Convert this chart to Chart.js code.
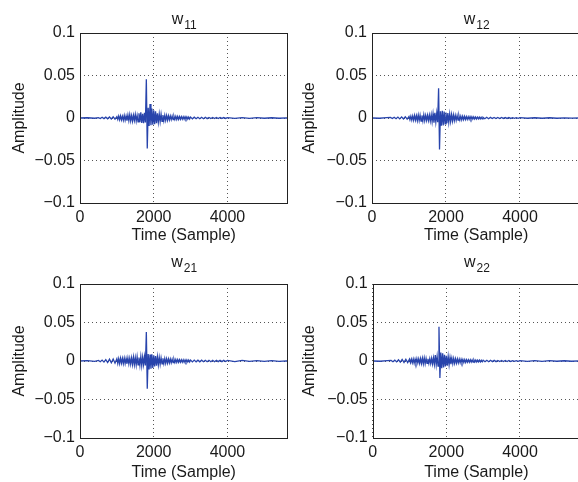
<!DOCTYPE html>
<html>
<head>
<meta charset="utf-8">
<title>w11 w12 w21 w22</title>
<script src="https://cdn.jsdelivr.net/npm/chart.js@4/dist/chart.umd.min.js"></script>
<style>
html, body { margin: 0; padding: 0; background: #fff; overflow: hidden; width: 578px; height: 482px; }
canvas { position: absolute; }
</style>
</head>
<body>
<canvas id="w11" width="290" height="245" style="left:0px;top:0px"></canvas>
<canvas id="w12" width="296" height="245" style="left:290px;top:0px"></canvas>
<canvas id="w21" width="290" height="237" style="left:0px;top:245px"></canvas>
<canvas id="w22" width="296" height="237" style="left:290px;top:245px"></canvas>
<script>
// sample index (x) shared by all four filters
const samples = [
	0, 200, 400,
	500, 550, 600, 650, 700, 750, 800, 850, 900, 950, 1000,
	1025, 1050, 1075, 1100, 1125, 1150, 1175, 1200, 1225, 1250,
	1275, 1300, 1325, 1350, 1375, 1400, 1425, 1450, 1475, 1500,
	1525, 1550, 1575, 1600, 1625, 1650, 1675, 1700, 1725, 1750,
	1775, 1800, 1825, 1850, 1875, 1900, 1925, 1950, 1975, 2000,
	2025, 2050, 2075, 2100, 2125, 2150, 2175, 2200, 2225, 2250,
	2275, 2300, 2325, 2350, 2375, 2400, 2425, 2450, 2475, 2500,
	2525, 2550, 2575, 2600, 2625, 2650, 2675, 2700, 2725, 2750,
	2775, 2800, 2825, 2850, 2875, 2900, 2925, 2950, 2975, 3000,
	3050, 3100, 3150, 3200, 3250, 3300, 3350, 3400, 3450, 3500,
	3550, 3600, 3650, 3700, 3750, 3800, 3850, 3900, 3950, 4000,
	4200, 4400, 4600, 4800, 5000, 5200, 5400, 5600, 5630
];

const w11 = [
	0, 0.0003, -0.0003,
	0.0005, -0.0006, 0.0008, -0.0007, 0.0010, -0.0009, 0.0012, -0.0011, 0.0014, -0.0013, 0.0016,
	-0.0018, 0.0022, -0.0020, 0.0025, -0.0023, 0.0021, -0.0027, 0.0030, -0.0026, 0.0024,
	-0.0031, 0.0035, -0.0030, 0.0040, -0.0034, 0.0028, -0.0038, 0.0032, -0.0029, 0.0042,
	-0.0036, 0.0030, -0.0045, 0.0055, -0.0050, 0.0068, -0.0058, 0.0048, -0.0062, 0.0060,
	-0.0052, 0.0455, -0.0360, 0.0120, -0.0095, 0.0165, -0.0085, 0.0110, -0.0080, 0.0090,
	-0.0072, 0.0078, -0.0060, 0.0055, -0.0050, 0.0048, -0.0042, 0.0045, -0.0038, 0.0035,
	-0.0033, 0.0032, -0.0028, 0.0030, -0.0026, 0.0025, -0.0022, 0.0024, -0.0020, 0.0022,
	-0.0019, 0.0020, -0.0018, 0.0019, -0.0017, 0.0018, -0.0016, 0.0017, -0.0015, 0.0016,
	-0.0014, 0.0015, -0.0013, 0.0014, -0.0012, 0.0013, -0.0012, 0.0012, -0.0011, 0.0011,
	-0.0010, 0.0010, -0.0009, 0.0009, -0.0008, 0.0009, -0.0008, 0.0008, -0.0007, 0.0007,
	-0.0007, 0.0007, -0.0006, 0.0006, -0.0006, 0.0006, -0.0005, 0.0005, -0.0005, 0.0005,
	-0.0004, 0.0004, -0.0004, 0.0004, -0.0003, 0.0003, -0.0003, 0.0002, 0
];

const w12 = [
	0, -0.0003, 0.0004,
	0.0006, -0.0007, 0.0009, -0.0008, 0.0011, -0.0010, 0.0013, -0.0012, 0.0015, -0.0014, 0.0018,
	-0.0020, 0.0022, -0.0025, 0.0024, -0.0027, 0.0030, -0.0026, 0.0028, -0.0032, 0.0035,
	-0.0030, 0.0033, -0.0036, 0.0030, -0.0034, 0.0038, -0.0032, 0.0030, -0.0028, 0.0032,
	-0.0030, 0.0034, -0.0036, 0.0040, -0.0045, 0.0050, -0.0055, 0.0062, -0.0048, 0.0058,
	-0.0050, 0.0350, -0.0370, 0.0080, -0.0090, 0.0085, -0.0088, 0.0075, -0.0070, 0.0065,
	-0.0060, 0.0058, -0.0052, 0.0048, -0.0042, 0.0040, -0.0036, 0.0035, -0.0032, 0.0030,
	-0.0028, 0.0028, -0.0025, 0.0026, -0.0023, 0.0022, -0.0021, 0.0020, -0.0019, 0.0019,
	-0.0017, 0.0017, -0.0016, 0.0016, -0.0015, 0.0015, -0.0014, 0.0014, -0.0013, 0.0013,
	-0.0012, 0.0012, -0.0011, 0.0011, -0.0010, 0.0010, -0.0010, 0.0009, -0.0009, 0.0009,
	-0.0008, 0.0008, -0.0008, 0.0007, -0.0007, 0.0007, -0.0006, 0.0006, -0.0006, 0.0006,
	-0.0005, 0.0005, -0.0005, 0.0005, -0.0005, 0.0004, -0.0004, 0.0004, -0.0004, 0.0004,
	-0.0003, 0.0003, -0.0003, 0.0003, -0.0003, 0.0002, -0.0002, 0.0002, 0
];

const w21 = [
	0, 0.0004, -0.0005,
	0.0008, -0.0010, 0.0012, -0.0014, 0.0018, -0.0020, 0.0024, -0.0022, 0.0026, -0.0028, 0.0030,
	-0.0032, 0.0030, -0.0034, 0.0036, -0.0030, 0.0033, -0.0035, 0.0038, -0.0032, 0.0034,
	-0.0036, 0.0040, -0.0038, 0.0035, -0.0040, 0.0042, -0.0045, 0.0050, -0.0048, 0.0044,
	-0.0052, 0.0055, -0.0050, 0.0046, -0.0055, 0.0058, -0.0060, 0.0052, -0.0048, 0.0056,
	-0.0058, 0.0375, -0.0360, 0.0090, -0.0110, 0.0085, -0.0100, 0.0088, -0.0090, 0.0075,
	-0.0070, 0.0065, -0.0060, 0.0055, -0.0050, 0.0048, -0.0042, 0.0040, -0.0036, 0.0035,
	-0.0033, 0.0032, -0.0030, 0.0030, -0.0028, 0.0027, -0.0025, 0.0025, -0.0023, 0.0022,
	-0.0021, 0.0021, -0.0020, 0.0019, -0.0018, 0.0018, -0.0017, 0.0017, -0.0016, 0.0016,
	-0.0015, 0.0015, -0.0015, 0.0014, -0.0014, 0.0014, -0.0013, 0.0013, -0.0013, 0.0012,
	-0.0012, 0.0012, -0.0011, 0.0011, -0.0011, 0.0010, -0.0010, 0.0010, -0.0010, 0.0009,
	-0.0009, 0.0009, -0.0009, 0.0008, -0.0008, 0.0008, -0.0008, 0.0008, -0.0007, 0.0007,
	-0.0007, 0.0007, -0.0006, 0.0006, -0.0006, 0.0006, -0.0005, 0.0002, 0
];

const w22 = [
	0, -0.0003, 0.0004,
	0.0007, -0.0009, 0.0011, -0.0012, 0.0015, -0.0016, 0.0020, -0.0018, 0.0022, -0.0021, 0.0024,
	-0.0022, 0.0025, -0.0024, 0.0026, -0.0028, 0.0025, -0.0027, 0.0030, -0.0026, 0.0028,
	-0.0030, 0.0032, -0.0034, 0.0036, -0.0038, 0.0040, -0.0036, 0.0034, -0.0030, 0.0028,
	-0.0031, 0.0030, -0.0033, 0.0035, -0.0038, 0.0042, -0.0045, 0.0078, -0.0050, 0.0060,
	-0.0065, 0.0445, -0.0220, 0.0110, -0.0095, 0.0100, -0.0085, 0.0080, -0.0070, 0.0068,
	-0.0062, 0.0058, -0.0050, 0.0045, -0.0040, 0.0038, -0.0035, 0.0034, -0.0031, 0.0030,
	-0.0028, 0.0027, -0.0025, 0.0024, -0.0023, 0.0022, -0.0021, 0.0020, -0.0019, 0.0019,
	-0.0018, 0.0017, -0.0016, 0.0016, -0.0015, 0.0015, -0.0014, 0.0014, -0.0013, 0.0013,
	-0.0013, 0.0012, -0.0012, 0.0012, -0.0011, 0.0011, -0.0011, 0.0010, -0.0010, 0.0010,
	-0.0010, 0.0009, -0.0009, 0.0009, -0.0008, 0.0008, -0.0008, 0.0007, -0.0007, 0.0007,
	-0.0007, 0.0006, -0.0006, 0.0006, -0.0006, 0.0005, -0.0005, 0.0005, -0.0005, 0.0005,
	-0.0004, 0.0004, -0.0004, 0.0004, -0.0003, 0.0003, -0.0003, 0.0002, 0
];

const xTicks = [0, 2000, 4000];
const yTicks = [-0.1, -0.05, 0, 0.05, 0.1];
const xMax = 5630;

const FONT = 'Liberation Sans, Arial, Helvetica, sans-serif';
const TEXT = '#1a1a1a';
const LINE = 'rgb(40, 68, 172)';

// frame box and "w" + subscript title (MATLAB look)
const panelDecor = {
	id: 'panelDecor',
	afterDraw(chart, args, opts) {
		let ctx = chart.ctx;
		let a = chart.chartArea;
		ctx.save();
		ctx.strokeStyle = '#222';
		ctx.lineWidth = 1;
		let l = Math.round(a.left) + 0.5;
		let t = Math.round(a.top) + 0.5;
		let r = Math.floor(a.right) + 0.5;
		let b = Math.floor(a.bottom) + 0.5;
		ctx.strokeRect(l, t, r - l, b - t);

		ctx.fillStyle = TEXT;
		ctx.textBaseline = 'alphabetic';
		ctx.textAlign = 'left';
		ctx.font = '16px ' + FONT;
		let mainW = ctx.measureText(opts.main).width;
		ctx.font = '12px ' + FONT;
		let subW = ctx.measureText(opts.sub).width;
		let x0 = (a.left + a.right) / 2 - (mainW + subW) / 2;
		let base = a.top - opts.gap;
		ctx.font = '16px ' + FONT;
		ctx.fillText(opts.main, x0, base);
		ctx.font = '12px ' + FONT;
		ctx.fillText(opts.sub, x0 + mainW + 1, base + 5);
		ctx.restore();
	}
};

function fmtY(v) {
	let s = String(Math.round(v * 100) / 100);
	return s.replace('-', '\u2212');
}

function makePanel(id, sub, values, box) {
	let points = samples.map((s, i) => ({ x: s, y: values[i] }));
	let target = document.getElementById(id);
	return new Chart(target, {
		type: 'line',
		data: {
			datasets: [{
				label: id,
				data: points,
				borderColor: LINE,
				borderWidth: 1.3,
				pointRadius: 0,
				tension: 0,
				fill: false
			}]
		},
		plugins: [panelDecor],
		options: {
			responsive: false,
			animation: false,
			devicePixelRatio: 1,
			layout: { padding: { top: box.padTop, right: box.padRight, left: 0, bottom: 0 } },
			plugins: {
				legend: { display: false },
				tooltip: { enabled: false },
				panelDecor: { main: 'w', sub: sub, gap: box.titleGap }
			},
			scales: {
				x: {
					type: 'linear',
					min: 0,
					max: xMax,
					afterFit: (scale) => { scale.height = box.xHeight; },
					afterBuildTicks: (scale) => { scale.ticks = xTicks.map(v => ({ value: v })); },
					ticks: {
						padding: 5,
						maxRotation: 0,
						autoSkip: false,
						color: TEXT,
						font: { family: FONT, size: 16 },
						callback: (v) => String(v)
					},
					grid: { color: '#555', lineWidth: 1, drawTicks: false },
					border: { display: false, dash: [1, 3] },
					title: {
						display: true,
						text: 'Time (Sample)',
						color: TEXT,
						font: { family: FONT, size: 16 },
						padding: { top: 0, bottom: 0 }
					}
				},
				y: {
					type: 'linear',
					min: -0.1,
					max: 0.1,
					afterFit: (scale) => { scale.width = box.yWidth; },
					afterBuildTicks: (scale) => { scale.ticks = yTicks.map(v => ({ value: v })); },
					ticks: {
						padding: 5,
						color: TEXT,
						font: { family: FONT, size: 16 },
						callback: (v) => fmtY(v)
					},
					grid: { color: '#555', lineWidth: 1, drawTicks: false },
					border: { display: false, dash: [1, 3] },
					title: {
						display: true,
						text: 'Amplitude',
						color: TEXT,
						font: { family: FONT, size: 16 },
						padding: { top: 10, bottom: 0 }
					}
				}
			}
		}
	});
}

makePanel('w11', '11', w11, { padTop: 33, padRight: 2.5, yWidth: 80, xHeight: 42, titleGap: 9 });
makePanel('w12', '12', w12, { padTop: 33, padRight: 5.7, yWidth: 82, xHeight: 42, titleGap: 9 });
makePanel('w21', '21', w21, { padTop: 39, padRight: 2.5, yWidth: 80, xHeight: 44, titleGap: 17 });
makePanel('w22', '22', w22, { padTop: 39, padRight: 6, yWidth: 82.7, xHeight: 44, titleGap: 17 });
</script>
</body>
</html>
